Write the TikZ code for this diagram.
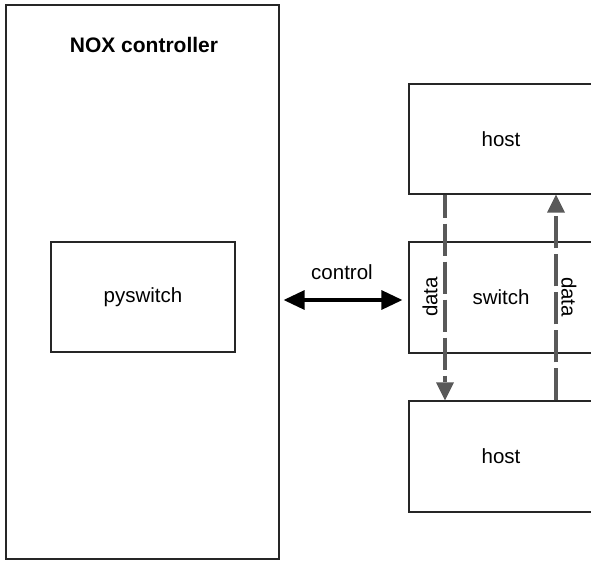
\documentclass[tikz,border=0pt]{standalone}
\usepackage{fontspec}
\setmainfont{Liberation Sans}
\usetikzlibrary{positioning, arrows.meta}

\begin{document}
\begin{tikzpicture}[
    x=1pt, y=1pt,
    box/.style={
        rectangle,
        draw=black!85, line width=1.2pt,
        minimum width=184pt, minimum height=110pt,
        font=\fontsize{20.5}{24}\selectfont
    },
    label/.style={
        inner sep=0pt,
        font=\fontsize{20.5}{24}\selectfont
    },
    control/.style={
        line width=3.2pt,
        {Triangle[length=21pt, width=19pt]}-{Triangle[length=21pt, width=19pt]},
        shorten <=4pt, shorten >=6pt
    },
    dataflow/.style={
        line width=3.4pt, draw=black!65,
        dash pattern=on 32pt off 6pt,
        -{Triangle[length=18pt, width=18pt, line width=0pt]}
    }
]
    \useasboundingbox (0,0) rectangle (591,-560);

    % The Controller ===========================
    \node[box, minimum width=273pt, minimum height=554pt] (nox) at (142.5,-282) {};
    \node[label, font=\fontsize{21}{24}\selectfont\bfseries] (noxTitle) at (144,-45) {NOX controller};
    \node[box, minimum height=110pt] (pyswitch) at (143,-297) {pyswitch};

    % The Network ===========================
    \node[box] (hostTop) at (501,-139) {host};
    \node[box, minimum height=111pt] (switch) at (501,-297.5) {switch};
    \node[box, minimum height=111pt] (hostBottom) at (501,-456.5) {host};

    % Connection Edges ====================
    \draw[control] (nox.east |- 0,-300) -- (switch.west |- 0,-300);
    \node[label] (controlLabel) at (342,-272) {control};

    % Data paths through the switch
    \draw[dataflow, dash phase=9pt] ([xshift=-56pt]hostTop.south) -- ([xshift=-56pt]hostBottom.north);
    \draw[dataflow] ([xshift=55pt]hostBottom.north) -- ([xshift=55pt]hostTop.south);
    \node[label, rotate=90] (dataLeft) at (430,-297) {data};
    \node[label, rotate=-90] (dataRight) at (569,-297) {data};

\end{tikzpicture}
\end{document}
